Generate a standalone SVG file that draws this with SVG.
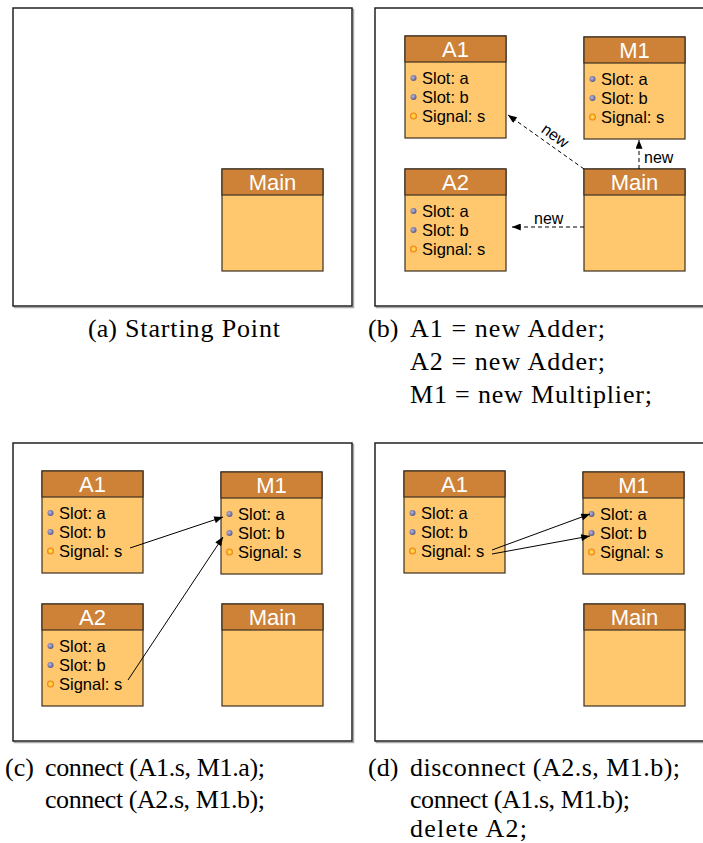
<svg xmlns="http://www.w3.org/2000/svg" width="703" height="843" viewBox="0 0 703 843">
<defs>
<marker id="ah" viewBox="0 0 10 8" refX="10" refY="4" markerWidth="10" markerHeight="7" orient="auto" markerUnits="userSpaceOnUse"><path d="M0,0 L10,4 L0,8 z" fill="#000"/></marker>
<radialGradient id="slotG" cx="0.4" cy="0.4" r="0.6"><stop offset="0" stop-color="#b8b8e0"/><stop offset="1" stop-color="#5a5a88"/></radialGradient>
<radialGradient id="sigG" cx="0.5" cy="0.5" r="0.5"><stop offset="0" stop-color="#fff070"/><stop offset="0.5" stop-color="#ffc030"/><stop offset="1" stop-color="#e8781a"/></radialGradient>
</defs>
<style>
.frame{fill:#fff;stroke:#222;stroke-width:1.5}
.shadow{fill:none;stroke:#aaa;stroke-width:1.5}
.body{fill:#FFC86E;stroke:#3d3020;stroke-width:1.2}
.head{fill:#CD8237;stroke:#3d3020;stroke-width:1.2}
.ht{font-family:"Liberation Sans",Arial,sans-serif;font-size:22px;fill:#fff;text-anchor:middle}
.it{font-family:"Liberation Sans",Arial,sans-serif;font-size:16.5px;fill:#000}
.slot{fill:url(#slotG)}
.sig{fill:url(#sigG)}
.lbl{font-family:"Liberation Sans",Arial,sans-serif;font-size:16px;fill:#000}
.cap{font-family:"Liberation Serif","Times New Roman",serif;font-size:26px;fill:#000}
.dash{fill:none;stroke:#000;stroke-width:1;stroke-dasharray:4,3;marker-end:url(#ah)}
.solid{fill:none;stroke:#000;stroke-width:1;marker-end:url(#ah)}
</style>

<!-- panel frames -->
<g id="frames">
<rect class="shadow" x="14.5" y="9.5" width="339" height="298"/>
<rect class="frame" x="13" y="8" width="339" height="298"/>
<rect class="shadow" x="376.5" y="9.5" width="340" height="298"/>
<rect class="frame" x="375" y="8" width="340" height="298"/>
<rect class="shadow" x="14.5" y="444.5" width="339" height="298"/>
<rect class="frame" x="13" y="443" width="339" height="298"/>
<rect class="shadow" x="376.5" y="444.5" width="340" height="298"/>
<rect class="frame" x="375" y="443" width="340" height="298"/>
</g>

<!-- Panel (a) -->
<g id="a_Main" transform="translate(222,169)">
<rect class="body" x="0" y="0" width="101" height="102"/><rect class="head" x="0" y="0" width="101" height="26"/>
<text class="ht" x="50.5" y="21">Main</text>
</g>

<!-- Panel (b) -->
<g id="b_A1" transform="translate(405,36)">
<rect class="body" x="0" y="0" width="101" height="102"/><rect class="head" x="0" y="0" width="101" height="26"/>
<text class="ht" x="50.5" y="21">A1</text>
<circle class="slot" cx="8.5" cy="42" r="3"/><text class="it" x="17" y="48">Slot: a</text>
<circle class="slot" cx="8.5" cy="61" r="3"/><text class="it" x="17" y="67">Slot: b</text>
<circle class="sig" cx="8.5" cy="80" r="3.5"/><text class="it" x="17" y="86">Signal: s</text>
</g>
<g id="b_M1" transform="translate(584,37)">
<rect class="body" x="0" y="0" width="101" height="102"/><rect class="head" x="0" y="0" width="101" height="26"/>
<text class="ht" x="50.5" y="21">M1</text>
<circle class="slot" cx="8.5" cy="42" r="3"/><text class="it" x="17" y="48">Slot: a</text>
<circle class="slot" cx="8.5" cy="61" r="3"/><text class="it" x="17" y="67">Slot: b</text>
<circle class="sig" cx="8.5" cy="80" r="3.5"/><text class="it" x="17" y="86">Signal: s</text>
</g>
<g id="b_A2" transform="translate(405,169)">
<rect class="body" x="0" y="0" width="101" height="102"/><rect class="head" x="0" y="0" width="101" height="26"/>
<text class="ht" x="50.5" y="21">A2</text>
<circle class="slot" cx="8.5" cy="42" r="3"/><text class="it" x="17" y="48">Slot: a</text>
<circle class="slot" cx="8.5" cy="61" r="3"/><text class="it" x="17" y="67">Slot: b</text>
<circle class="sig" cx="8.5" cy="80" r="3.5"/><text class="it" x="17" y="86">Signal: s</text>
</g>
<g id="b_Main" transform="translate(584,169)">
<rect class="body" x="0" y="0" width="101" height="102"/><rect class="head" x="0" y="0" width="101" height="26"/>
<text class="ht" x="50.5" y="21">Main</text>
</g>

<!-- Panel (c) -->
<g id="c_A1" transform="translate(42,471)">
<rect class="body" x="0" y="0" width="101" height="102"/><rect class="head" x="0" y="0" width="101" height="26"/>
<text class="ht" x="50.5" y="21">A1</text>
<circle class="slot" cx="8.5" cy="42" r="3"/><text class="it" x="17" y="48">Slot: a</text>
<circle class="slot" cx="8.5" cy="61" r="3"/><text class="it" x="17" y="67">Slot: b</text>
<circle class="sig" cx="8.5" cy="80" r="3.5"/><text class="it" x="17" y="86">Signal: s</text>
</g>
<g id="c_M1" transform="translate(221,472)">
<rect class="body" x="0" y="0" width="101" height="102"/><rect class="head" x="0" y="0" width="101" height="26"/>
<text class="ht" x="50.5" y="21">M1</text>
<circle class="slot" cx="8.5" cy="42" r="3"/><text class="it" x="17" y="48">Slot: a</text>
<circle class="slot" cx="8.5" cy="61" r="3"/><text class="it" x="17" y="67">Slot: b</text>
<circle class="sig" cx="8.5" cy="80" r="3.5"/><text class="it" x="17" y="86">Signal: s</text>
</g>
<g id="c_A2" transform="translate(42,604)">
<rect class="body" x="0" y="0" width="101" height="102"/><rect class="head" x="0" y="0" width="101" height="26"/>
<text class="ht" x="50.5" y="21">A2</text>
<circle class="slot" cx="8.5" cy="42" r="3"/><text class="it" x="17" y="48">Slot: a</text>
<circle class="slot" cx="8.5" cy="61" r="3"/><text class="it" x="17" y="67">Slot: b</text>
<circle class="sig" cx="8.5" cy="80" r="3.5"/><text class="it" x="17" y="86">Signal: s</text>
</g>
<g id="c_Main" transform="translate(222,604)">
<rect class="body" x="0" y="0" width="101" height="102"/><rect class="head" x="0" y="0" width="101" height="26"/>
<text class="ht" x="50.5" y="21">Main</text>
</g>

<!-- Panel (d) -->
<g id="d_A1" transform="translate(404,471)">
<rect class="body" x="0" y="0" width="101" height="102"/><rect class="head" x="0" y="0" width="101" height="26"/>
<text class="ht" x="50.5" y="21">A1</text>
<circle class="slot" cx="8.5" cy="42" r="3"/><text class="it" x="17" y="48">Slot: a</text>
<circle class="slot" cx="8.5" cy="61" r="3"/><text class="it" x="17" y="67">Slot: b</text>
<circle class="sig" cx="8.5" cy="80" r="3.5"/><text class="it" x="17" y="86">Signal: s</text>
</g>
<g id="d_M1" transform="translate(583,472)">
<rect class="body" x="0" y="0" width="101" height="102"/><rect class="head" x="0" y="0" width="101" height="26"/>
<text class="ht" x="50.5" y="21">M1</text>
<circle class="slot" cx="8.5" cy="42" r="3"/><text class="it" x="17" y="48">Slot: a</text>
<circle class="slot" cx="8.5" cy="61" r="3"/><text class="it" x="17" y="67">Slot: b</text>
<circle class="sig" cx="8.5" cy="80" r="3.5"/><text class="it" x="17" y="86">Signal: s</text>
</g>
<g id="d_Main" transform="translate(584,604)">
<rect class="body" x="0" y="0" width="101" height="102"/><rect class="head" x="0" y="0" width="101" height="26"/>
<text class="ht" x="50.5" y="21">Main</text>
</g>

<!-- connectors -->
<g id="connectors">
<path class="dash" d="M584,169 L508,115"/>
<path class="dash" d="M639,169 L639,140"/>
<path class="dash" d="M584,227 L512,227"/>
<text class="lbl" x="0" y="0" text-anchor="middle" transform="translate(552,140) rotate(36)">new</text>
<text class="lbl" x="644" y="163">new</text>
<text class="lbl" x="534" y="224">new</text>
<path class="solid" d="M130,548 L223,517"/>
<path class="solid" d="M128,680 L223,537"/>
<path class="solid" d="M492,550 L590,514"/>
<path class="solid" d="M492,554 L590,536"/>
</g>

<!-- captions -->
<g id="captions">
<text class="cap" x="88" y="337">(a)</text>
<text class="cap" x="125" y="337" textLength="155" lengthAdjust="spacing">Starting Point</text>
<text class="cap" x="368" y="337">(b)</text>
<text class="cap" x="410" y="337" textLength="195" lengthAdjust="spacing">A1 = new Adder;</text>
<text class="cap" x="410" y="370" textLength="195" lengthAdjust="spacing">A2 = new Adder;</text>
<text class="cap" x="410" y="403" textLength="242" lengthAdjust="spacing">M1 = new Multiplier;</text>
<text class="cap" x="5" y="776">(c)</text>
<text class="cap" x="45" y="776" textLength="220" lengthAdjust="spacing">connect (A1.s, M1.a);</text>
<text class="cap" x="45" y="808" textLength="220" lengthAdjust="spacing">connect (A2.s, M1.b);</text>
<text class="cap" x="368" y="776">(d)</text>
<text class="cap" x="410" y="776" textLength="270" lengthAdjust="spacing">disconnect (A2.s, M1.b);</text>
<text class="cap" x="410" y="808" textLength="220" lengthAdjust="spacing">connect (A1.s, M1.b);</text>
<text class="cap" x="410" y="837" textLength="117" lengthAdjust="spacing">delete A2;</text>
</g>
</svg>
